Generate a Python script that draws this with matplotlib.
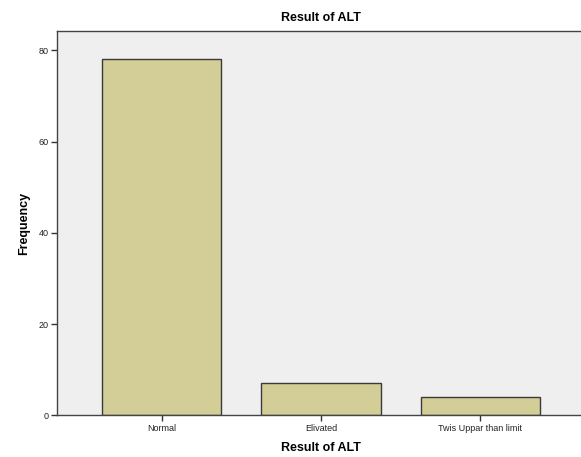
import matplotlib
matplotlib.use("Agg")
import matplotlib.pyplot as plt

categories = ["Normal", "Elivated", "Twis Uppar than limit"]
frequency = [78, 7, 4]
yticks = [0, 20, 40, 60, 80]

plt.rcParams['font.family'] = ['Liberation Sans', 'DejaVu Sans']

fig = plt.figure(figsize=(5.81, 4.57), dpi=100)
# right edge of the plot area runs past the picture, as in the reference
ax = fig.add_axes([0.098, 0.091, 0.909, 0.841])
ax.set_facecolor('#efefef')

x = range(len(categories))
ax.bar(x, frequency, width=0.75, color='#d3ce97', edgecolor='#3a3a3a', linewidth=1.0)

ax.set_xlim(-0.658, 2.658)
ax.set_ylim(0, 84.2)
ax.set_xticks(list(x))
ax.set_xticklabels(categories, fontsize=6.5, color='#222222')
ax.set_yticks(yticks)
ax.set_yticklabels([str(v) for v in yticks], fontsize=6.5, color='#222222')
ax.tick_params(axis='both', direction='out', length=4, width=1, color='#333333', pad=2)

for s in ax.spines.values():
    s.set_color('#444444')
    s.set_linewidth(1.0)

ax.set_title("Result of ALT", fontsize=9, fontweight='bold', pad=7)
ax.set_xlabel("Result of ALT", fontsize=9, fontweight='bold', labelpad=7)
ax.set_ylabel("Frequency", fontsize=9, fontweight='bold', labelpad=6)

fig.savefig("out.png", dpi=100)
